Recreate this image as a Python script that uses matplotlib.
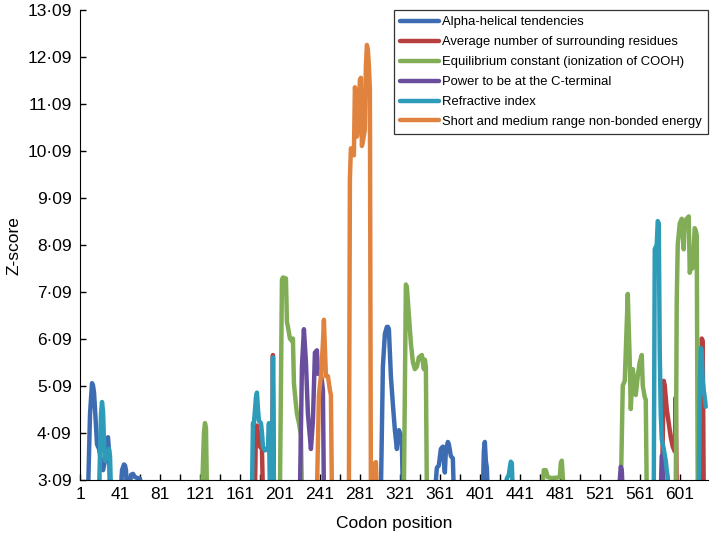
import numpy as np
import matplotlib
matplotlib.use("Agg")
import matplotlib.pyplot as plt
from matplotlib.ticker import FixedLocator

plt.rcParams['font.family'] = ['Liberation Sans', 'DejaVu Sans']

# series: codon position / z-score (values below 3.09 fall outside the plot)
alpha_x = [9, 11, 13, 14, 15, 16, 18, 20, 22, 24, 26, 27, 28, 29, 30, 31,
           42, 43, 45, 46, 47, 48,
           50, 52, 54, 56, 59, 61, 62,
           302, 304, 306, 308, 309, 310, 311, 312, 314, 316, 318, 320, 322, 323, 324,
           356, 358, 360, 362, 364, 365, 366, 367, 369, 370, 372, 374, 375,
           404, 405, 406, 407, 408, 409]
alpha_y = [2.8, 4.5, 5.15, 5.1, 4.95, 4.6, 3.85, 3.75, 3.5, 3.3, 3.5, 3.6, 3.95, 4.0, 3.7, 2.8,
           2.8, 3.3, 3.42, 3.4, 3.3, 2.8,
           2.8, 3.2, 3.22, 3.15, 3.13, 3.12, 2.8,
           2.8, 5.5, 6.2, 6.35, 6.35, 6.3, 5.8, 5.3, 4.7, 4.15, 3.75, 4.15, 4.05, 3.9, 2.8,
           2.8, 3.35, 3.4, 3.75, 3.8, 3.5, 3.25, 3.7, 3.9, 3.85, 3.6, 3.55, 2.8,
           2.8, 3.7, 3.9, 3.5, 3.35, 2.8]

avg_x = [176, 177, 178, 180, 181, 183, 184,
         193, 194, 195,
         583, 585, 586, 588, 590, 592, 594, 596, 597, 598,
         622, 623, 624, 625]
avg_y = [2.8, 4.2, 4.25, 3.95, 3.8, 3.75, 2.8,
         2.8, 5.75, 2.8,
         2.8, 5.2, 5.1, 4.6, 4.3, 4.0, 3.8, 3.7, 4.85, 2.8,
         2.8, 6.1, 6.05, 2.8]

equil_x = [123, 125, 126, 127, 128,
           201, 203, 204, 207, 208, 209, 211, 213, 214, 215, 217, 218, 220, 222, 223,
           325, 327, 328, 330, 332, 334, 336, 338, 340, 343, 345, 346, 347, 348,
           463, 465, 467, 469, 473, 478, 481, 482, 483, 485,
           542, 544, 546, 549, 551, 552, 554, 556, 557, 559, 561, 563, 564, 566, 567, 568,
           597, 598, 599, 601, 603, 605, 606, 608, 610, 611, 612, 614, 616, 617, 618, 619]
equil_y = [2.8, 4.1, 4.3, 4.2, 2.8,
           2.8, 7.35, 7.4, 7.38, 6.45, 6.35, 6.1, 6.05, 6.1, 5.15, 4.7, 4.5, 4.3, 4.05, 2.8,
           2.8, 7.25, 7.2, 6.6, 6.0, 5.6, 5.45, 5.5, 5.7, 5.75, 5.45, 5.65, 5.5, 2.8,
           2.8, 3.3, 3.3, 3.15, 3.13, 3.14, 3.15, 3.45, 3.5, 2.8,
           2.8, 5.1, 5.2, 7.05, 5.6, 4.6, 5.45, 5.1, 4.9, 5.3, 5.6, 5.75, 5.1, 4.85, 4.8, 2.8,
           2.8, 6.9, 8.1, 8.55, 8.65, 8.0, 8.6, 8.65, 8.7, 7.5, 7.6, 7.6, 8.45, 8.4, 8.3, 2.8]

power_x = [221, 223, 225, 227, 229, 232, 234, 236, 238, 239, 241, 243, 244, 245,
           540, 542, 543, 544,
           582, 583, 584, 585]
power_y = [2.8, 5.5, 6.3, 5.6, 4.5, 3.75, 4.35, 5.8, 5.85, 5.35, 5.45, 5.2, 5.0, 2.8,
           2.8, 3.37, 3.3, 2.8,
           2.8, 3.6, 3.62, 2.8]

refr_x = [20, 22, 23, 24, 25, 26, 28, 30, 31, 32,
          173, 174, 175, 177, 178, 179, 180, 182, 183, 184, 186, 189, 190, 191,
          193, 194, 195,
          426, 428, 430, 431, 432, 433, 434,
          575, 576, 578, 579, 580, 581, 582, 583, 585, 587, 588, 589, 590,
          620, 621, 622, 623, 624, 625, 626, 627]
refr_y = [2.8, 4.5, 4.75, 4.55, 3.9, 3.5, 3.6, 3.75, 3.6, 2.8,
          2.8, 4.3, 4.3, 4.85, 4.95, 4.6, 4.35, 4.3, 4.1, 3.8, 3.72, 3.75, 4.3, 2.8,
          2.8, 5.7, 2.8,
          2.8, 3.12, 3.2, 3.35, 3.48, 3.45, 2.8,
          2.8, 8.0, 8.1, 8.6, 8.55, 5.8, 4.5, 3.95, 3.75, 3.5, 3.3, 3.15, 2.8,
          2.8, 5.0, 5.9, 5.85, 5.2, 5.0, 4.85, 4.65]

short_x = [238, 240, 242, 244, 245, 246, 247, 249, 251, 252, 253,
           270, 271, 272, 274, 275, 276, 277, 278, 279, 281, 282, 283, 284, 286, 287,
           288, 289, 290, 291, 292,
           294, 296, 297, 298]
short_y = [2.8, 4.9, 5.3, 6.0, 6.5, 5.9, 5.3, 5.3, 5.0, 4.9, 2.8,
           2.8, 9.5, 10.15, 10.1, 10.0, 11.45, 11.3, 10.4, 10.6, 11.6, 11.65, 10.2, 10.3, 10.55, 11.9,
           12.35, 12.25, 11.9, 11.4, 2.8,
           2.8, 3.45, 3.47, 2.8]

labels = ['Alpha-helical tendencies',
          'Average number of surrounding residues',
          'Equilibrium constant (ionization of COOH)',
          'Power to be at the C-terminal',
          'Refractive index',
          'Short and medium range non-bonded energy']
colors = ['#3D6CB2', '#B5403F', '#80AD55', '#6A4E9E', '#2E9BB9', '#E0833F']

y_ticks = [3.09, 4.09, 5.09, 6.09, 7.09, 8.09, 9.09, 10.09, 11.09, 12.09, 13.09]
x_ticks = [1, 41, 81, 121, 161, 201, 241, 281, 321, 361, 401, 441, 481, 521, 561, 601]

fig = plt.figure(figsize=(7.12, 5.36), dpi=100)
ax = fig.add_axes([0.1124, 0.1045, 0.8816, 0.8765])

series = [(alpha_x, alpha_y), (avg_x, avg_y), (equil_x, equil_y),
          (power_x, power_y), (refr_x, refr_y), (short_x, short_y)]
for (xs, ys), lab, col in zip(series, labels, colors):
    ax.plot(xs, ys, color=col, lw=3.2, label=lab, solid_joinstyle='round',
            solid_capstyle='round')

ax.set_xlim(1, 629)
ax.set_ylim(3.09, 13.09)
ax.set_yticks(y_ticks)
ax.set_yticklabels([f"{v:.2f}".replace('.', '\u00b7') for v in y_ticks])
ax.set_xticks(x_ticks)
ax.set_xticklabels([str(v) for v in x_ticks])
ax.xaxis.set_minor_locator(FixedLocator([v + 20 for v in x_ticks]))
ax.tick_params(axis='both', which='both', direction='in', length=4, width=1,
               labelsize=12.5, pad=5)
ax.tick_params(axis='y', which='both', pad=6)
for s in ['top', 'right']:
    ax.spines[s].set_visible(False)

ax.set_xlabel('Codon position', fontsize=12.5, labelpad=10)
ax.set_ylabel('Z-score', fontsize=12.5, labelpad=4)

leg = ax.legend(loc='upper right', bbox_to_anchor=(1.0, 1.0), borderaxespad=0,
                fontsize=9.4, frameon=True, fancybox=False, edgecolor='black',
                handlelength=3.0, handletextpad=0.2, labelspacing=0.6,
                borderpad=0.45)
leg.get_frame().set_linewidth(0.9)

fig.savefig('out.png', dpi=100)
